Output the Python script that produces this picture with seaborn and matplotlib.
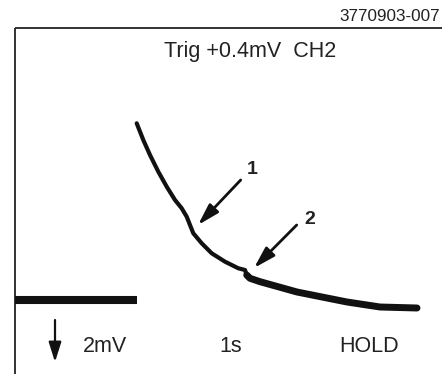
import matplotlib
matplotlib.use("Agg")
import matplotlib.pyplot as plt
import seaborn as sns
import pandas as pd

# ---- data (time in s, voltage in mV) ----
baseline_t = [0.0, 1.22]
baseline_v = [0.0, 0.0]

trace1_t = [1.217, 1.283, 1.35, 1.433, 1.517, 1.60, 1.667, 1.717, 1.75, 1.783,
            1.867, 1.967, 2.10, 2.233, 2.30, 2.317]
trace1_v = [4.418, 4.0, 3.625, 3.208, 2.833, 2.50, 2.293, 2.083, 1.875, 1.668,
            1.418, 1.168, 0.958, 0.793, 0.75, 0.625]

trace2_t = [2.317, 2.35, 2.45, 2.82, 3.32, 3.65, 4.02]
trace2_v = [0.625, 0.543, 0.458, 0.20, -0.05, -0.175, -0.20]

title_text = "Trig +0.4mV  CH2"
figure_id = "3770903-007"
bottom_labels = ["2mV", "1s", "HOLD"]
marker_labels = ["1", "2"]

sns.set_style("white")
plt.rcParams["font.family"] = ["Liberation Sans", "DejaVu Sans"]

fig = plt.figure(figsize=(4.42, 3.74), dpi=100)
ax = fig.add_axes([0, 0, 1, 1])
ax.set_xlim(-0.15, 4.27)
ax.set_ylim(-1.85, 7.5)
ax.axis("off")

ink = "#111111"

# frame (left and top borders)
ax.plot([0, 0], [-2.5, 6.8], color="#222222", lw=1.3, solid_capstyle="butt")
ax.plot([0, 5.0], [6.8, 6.8], color="#222222", lw=1.3, solid_capstyle="butt")

df_base = pd.DataFrame({"t": baseline_t, "v": baseline_v})
df1 = pd.DataFrame({"t": trace1_t, "v": trace1_v})
df2 = pd.DataFrame({"t": trace2_t, "v": trace2_v})

sns.lineplot(data=df_base, x="t", y="v", ax=ax, color=ink, lw=5.8,
             estimator=None, solid_capstyle="butt")
sns.lineplot(data=df1, x="t", y="v", ax=ax, color=ink, lw=3.0,
             estimator=None, solid_capstyle="round", solid_joinstyle="round")
sns.lineplot(data=df2, x="t", y="v", ax=ax, color=ink, lw=5.0,
             estimator=None, solid_capstyle="round", solid_joinstyle="round")

# annotation arrows
arrow_style = dict(arrowstyle="-|>,head_length=1.3,head_width=0.38",
                   color=ink, lw=2.0, shrinkA=0, shrinkB=0, mutation_scale=10)
ax.annotate("", xy=(1.83, 1.875), xytext=(2.257, 3.0), arrowprops=arrow_style)
ax.annotate("", xy=(2.39, 0.80), xytext=(2.817, 1.875), arrowprops=arrow_style)
ax.text(2.37, 3.25, marker_labels[0], fontsize=14, fontweight="bold",
        ha="center", va="center", color="#222222")
ax.text(2.95, 2.0, marker_labels[1], fontsize=14, fontweight="bold",
        ha="center", va="center", color="#222222")

# down arrow (2mV scale indicator)
down_style = dict(arrowstyle="-|>,head_length=1.2,head_width=0.38",
                  color=ink, lw=1.6, shrinkA=0, shrinkB=0, mutation_scale=10)
ax.annotate("", xy=(0.40, -1.55), xytext=(0.40, -0.5), arrowprops=down_style)

# texts
ax.text(2.355, 6.2, title_text, fontsize=15.5, ha="center", va="center",
        color="#222222")
ax.text(4.255, 7.09, figure_id, fontsize=12.3, ha="right", va="center",
        color="#222222")
ax.text(0.895, -1.16, bottom_labels[0], fontsize=15.5, ha="center",
        va="center", color="#222222")
ax.text(2.16, -1.16, bottom_labels[1], fontsize=15.5, ha="center",
        va="center", color="#222222")
ax.text(3.54, -1.16, bottom_labels[2], fontsize=15.5, ha="center",
        va="center", color="#222222")

fig.savefig("out.png", dpi=100)
